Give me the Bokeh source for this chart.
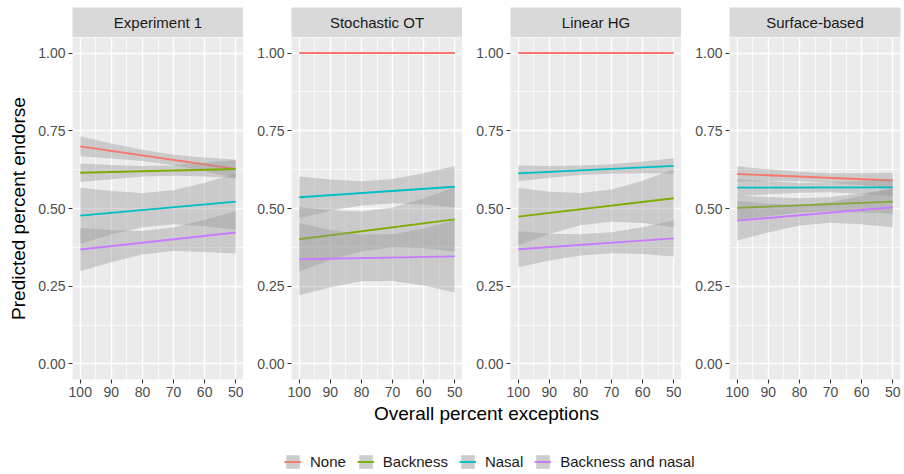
from bokeh.plotting import figure
from bokeh.layouts import row, column
from bokeh.models import (Range1d, FixedTicker, NumeralTickFormatter, Label,
                          Legend, LegendItem)
from bokeh.embed import file_html
from bokeh.resources import INLINE

FONT = "Liberation Sans"
NAN = float("nan")

# ---- data -----------------------------------------------------------------
panels = ["Experiment 1", "Stochastic OT", "Linear HG", "Surface-based"]
conditions = ["None", "Backness", "Nasal", "Backness and nasal"]
colors = ["#F8766D", "#7CAE00", "#00BFC4", "#C77CFF"]

x_ticks = [100, 90, 80, 70, 60, 50]
x_minor = [95, 85, 75, 65, 55]
y_ticks = [0.0, 0.25, 0.5, 0.75, 1.0]
y_minor = [0.125, 0.375, 0.625, 0.875]

# fitted line at 100% and 50% exceptions
fit_x = [100, 50]
# confidence band sampled along the exception axis
band_x = [100, 90, 80, 70, 60, 50]

exp1_fit = {
    "None": [0.700, 0.627],
    "Backness": [0.615, 0.627],
    "Nasal": [0.477, 0.522],
    "Backness and nasal": [0.368, 0.423],
}
exp1_lower = {
    "None": [0.668, 0.661, 0.653, 0.639, 0.620, 0.597],
    "Backness": [0.585, 0.594, 0.603, 0.605, 0.603, 0.598],
    "Nasal": [0.387, 0.416, 0.440, 0.449, 0.443, 0.432],
    "Backness and nasal": [0.299, 0.327, 0.352, 0.363, 0.360, 0.355],
}
exp1_upper = {
    "None": [0.732, 0.709, 0.689, 0.673, 0.664, 0.657],
    "Backness": [0.645, 0.640, 0.637, 0.639, 0.647, 0.656],
    "Nasal": [0.567, 0.556, 0.550, 0.559, 0.583, 0.612],
    "Backness and nasal": [0.437, 0.431, 0.428, 0.439, 0.464, 0.491],
}

sot_fit = {
    "None": [1.0, 1.0],
    "Backness": [0.401, 0.465],
    "Nasal": [0.536, 0.570],
    "Backness and nasal": [0.337, 0.346],
}
sot_lower = {
    "None": [1.0, 1.0, 1.0, 1.0, 1.0, 1.0],
    "Backness": [0.297, 0.334, 0.362, 0.375, 0.372, 0.361],
    "Nasal": [0.469, 0.493, 0.510, 0.517, 0.513, 0.503],
    "Backness and nasal": [0.221, 0.247, 0.266, 0.267, 0.252, 0.230],
}
sot_upper = {
    "None": [1.0, 1.0, 1.0, 1.0, 1.0, 1.0],
    "Backness": [0.505, 0.494, 0.490, 0.503, 0.532, 0.569],
    "Nasal": [0.603, 0.593, 0.588, 0.595, 0.613, 0.637],
    "Backness and nasal": [0.453, 0.431, 0.416, 0.417, 0.436, 0.462],
}

hg_fit = {
    "None": [1.0, 1.0],
    "Backness": [0.474, 0.533],
    "Nasal": [0.613, 0.637],
    "Backness and nasal": [0.369, 0.404],
}
hg_lower = {
    "None": [1.0, 1.0, 1.0, 1.0, 1.0, 1.0],
    "Backness": [0.382, 0.418, 0.446, 0.457, 0.453, 0.440],
    "Nasal": [0.588, 0.599, 0.608, 0.612, 0.613, 0.612],
    "Backness and nasal": [0.311, 0.333, 0.349, 0.356, 0.354, 0.346],
}
hg_upper = {
    "None": [1.0, 1.0, 1.0, 1.0, 1.0, 1.0],
    "Backness": [0.566, 0.554, 0.550, 0.561, 0.589, 0.626],
    "Nasal": [0.638, 0.637, 0.638, 0.642, 0.651, 0.662],
    "Backness and nasal": [0.427, 0.419, 0.417, 0.424, 0.440, 0.462],
}

surf_fit = {
    "None": [0.611, 0.590],
    "Backness": [0.502, 0.522],
    "Nasal": [0.567, 0.568],
    "Backness and nasal": [0.461, 0.504],
}
surf_lower = {
    "None": [0.586, 0.588, 0.588, 0.583, 0.575, 0.565],
    "Backness": [0.462, 0.475, 0.487, 0.491, 0.487, 0.482],
    "Nasal": [0.539, 0.546, 0.551, 0.552, 0.547, 0.540],
    "Backness and nasal": [0.397, 0.423, 0.445, 0.454, 0.449, 0.440],
}
surf_upper = {
    "None": [0.636, 0.626, 0.618, 0.613, 0.613, 0.615],
    "Backness": [0.542, 0.537, 0.533, 0.537, 0.549, 0.562],
    "Nasal": [0.595, 0.588, 0.583, 0.584, 0.589, 0.596],
    "Backness and nasal": [0.525, 0.515, 0.511, 0.520, 0.541, 0.568],
}

panel_data = [
    (exp1_fit, exp1_lower, exp1_upper),
    (sot_fit, sot_lower, sot_upper),
    (hg_fit, hg_lower, hg_upper),
    (surf_fit, surf_lower, surf_upper),
]

# ---- layout geometry ------------------------------------------------------
FRAME_W = 171
left_borders = [72, 48, 48, 48]
right_borders = [0, 0, 0, 4]
STRIP_H = 30
TOP_PAD = 7
PANEL_H = 342
BOTTOM_AXIS = 25


def strip_figure(title, lb, rb):
    s = figure(width=lb + FRAME_W + rb, height=TOP_PAD + STRIP_H,
               x_range=Range1d(0, 1), y_range=Range1d(0, 1),
               x_axis_type=None, y_axis_type=None,
               output_backend="svg", toolbar_location=None,
               min_border_left=lb, min_border_right=rb,
               min_border_top=TOP_PAD, min_border_bottom=0)
    s.background_fill_color = "#D9D9D9"
    s.border_fill_color = "white"
    s.outline_line_color = None
    s.add_layout(Label(x=0.5, y=0.5, text=title, text_align="center",
                       text_baseline="middle", text_font=FONT,
                       text_font_size="15px", text_color="#1A1A1A"))
    return s


def panel_figure(fit, lower, upper, lb, rb, first):
    p = figure(width=lb + FRAME_W + rb, height=PANEL_H + BOTTOM_AXIS,
               x_range=Range1d(102.5, 47.5), y_range=Range1d(-0.05, 1.05),
               output_backend="svg", toolbar_location=None,
               min_border_left=lb, min_border_right=rb,
               min_border_top=0, min_border_bottom=BOTTOM_AXIS)
    p.background_fill_color = "#EBEBEB"
    p.border_fill_color = "white"
    p.outline_line_color = None

    p.xaxis.ticker = FixedTicker(ticks=x_ticks, minor_ticks=x_minor)
    p.yaxis.ticker = FixedTicker(ticks=y_ticks, minor_ticks=y_minor)
    p.yaxis.formatter = NumeralTickFormatter(format="0.00")

    for ax in (p.xaxis, p.yaxis):
        ax.axis_line_color = None
        ax.major_tick_line_color = "#333333"
        ax.major_tick_line_width = 1.1
        ax.major_tick_out = 4
        ax.major_tick_in = 0
        ax.minor_tick_line_color = None
        ax.major_label_standoff = 3
        ax.major_label_text_font = FONT
        ax.major_label_text_font_size = "14px"
        ax.major_label_text_color = "#4D4D4D"

    for g in (p.xgrid, p.ygrid):
        g.grid_line_color = "white"
        g.grid_line_width = 1.4
        g.minor_grid_line_color = "white"
        g.minor_grid_line_width = 0.7

    if first:
        p.yaxis.axis_label = "Predicted percent endorse"
        p.yaxis.axis_label_text_font = FONT
        p.yaxis.axis_label_text_font_size = "19px"
        p.yaxis.axis_label_text_font_style = "normal"
        p.yaxis.axis_label_text_color = "black"
        p.yaxis.axis_label_standoff = 6

    # each group: confidence ribbon, then its fitted line
    for cond, col in zip(conditions, colors):
        p.varea(x=band_x, y1=lower[cond], y2=upper[cond],
                fill_color="#999999", fill_alpha=0.4)
        p.line(x=fit_x, y=fit[cond], line_color=col, line_width=1.9)
    return p


columns = []
for i, title in enumerate(panels):
    fit, lower, upper = panel_data[i]
    s = strip_figure(title, left_borders[i], right_borders[i])
    p = panel_figure(fit, lower, upper, left_borders[i], right_borders[i], i == 0)
    columns.append(column(s, p, spacing=0))

# ---- shared x title and legend ---------------------------------------------
foot = figure(width=904, height=70, x_range=Range1d(0, 904), y_range=Range1d(0, 70),
              x_axis_type=None, y_axis_type=None,
              output_backend="svg", toolbar_location=None, min_border=0)
foot.outline_line_color = None
foot.background_fill_color = "white"
foot.border_fill_color = "white"

foot.add_layout(Label(x=486, y=61, text="Overall percent exceptions",
                      text_align="center", text_baseline="middle",
                      text_font=FONT, text_font_size="19px", text_color="black"))

# legend-only renderers: a single undrawable (NaN) point each
items = []
for cond, col in zip(conditions, colors):
    key = foot.quad(left=[NAN], right=[NAN], top=[NAN], bottom=[NAN],
                    fill_color="#CCCCCC", line_color=None)
    ln = foot.line(x=[NAN], y=[NAN], line_color=col, line_width=1.9)
    items.append(LegendItem(label=cond, renderers=[key, ln]))

legend = Legend(items=items, orientation="horizontal", location=(284, 4),
                glyph_width=17, glyph_height=17, label_height=17,
                label_standoff=9, spacing=11, padding=0, margin=0,
                border_line_color=None, background_fill_alpha=0,
                label_text_font=FONT, label_text_font_size="15px",
                label_text_color="#1A1A1A")
foot.add_layout(legend)

layout = column(row(*columns, spacing=0), foot, spacing=0)

with open("out.html", "w") as f:
    f.write(file_html(layout, INLINE))
